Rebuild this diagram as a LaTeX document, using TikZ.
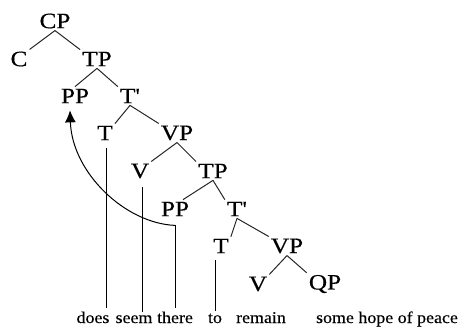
\documentclass[tikz,border=0pt]{standalone}
\usepackage{fontspec}
\setmainfont{Liberation Serif}
\newfontfamily\catfont[FakeStretch=1.15,FakeBold=0.4]{Liberation Serif}
\newfontfamily\wordfont[FakeStretch=1.09,FakeBold=0.3]{Liberation Serif}
\usetikzlibrary{arrows,arrows.meta,positioning}
\tikzstyle{cat} = [inner sep=2pt, font=\catfont\fontsize{22}{22}\selectfont]
\tikzstyle{word} = [inner sep=3pt, anchor=base, font=\wordfont\fontsize{16.5}{16.5}\selectfont]
\tikzstyle{branch} = [draw=black!85, line width=1bp]
\tikzstyle{trace} = [draw=black, line width=1bp]

\begin{document}
\begin{tikzpicture}[x=1bp, y=-1bp]
\useasboundingbox (0,0) rectangle (461,327);
% categories
\node[cat] (CP) at (55,21) {CP};
\node[cat] (C) at (19,59) {C};
\node[cat] (TPa) at (97,59) {TP};
\node[cat] (PPa) at (75,96) {PP};
\node[cat] (Tba) at (130,96) {T'};
\node[cat] (Ta) at (105,133) {T};
\node[cat] (VPa) at (177,133) {VP};
\node[cat] (Va) at (140,171) {V};
\node[cat] (TPb) at (213,171) {TP};
\node[cat] (PPb) at (175,209) {PP};
\node[cat] (Tbb) at (237,209) {T'};
\node[cat] (Tb) at (221,246) {T};
\node[cat] (VPb) at (287,246) {VP};
\node[cat] (Vb) at (258,284) {V};
\node[cat] (QP) at (325,284) {QP};
% words
\node[word] (does) at (93,323) {does};
\node[word] (seem) at (134,323) {seem};
\node[word] (there) at (175,323) {there};
\node[word] (to) at (215,323) {to};
\node[word] (remain) at (261,323) {remain};
\node[word] (some) at (387,323) {some hope of peace};
% branches
\draw[branch] (CP.south) -- (C.north east);
\draw[branch] (CP.south) -- (TPa.north west);
\draw[branch] (TPa.south) -- (PPa.north);
\draw[branch] (TPa.south) -- (Tba.north west);
\draw[branch] (Tba.south) -- (Ta.north east);
\draw[branch] (Tba.south) -- (VPa.north west);
\draw[branch] (VPa.south) -- (Va.north east);
\draw[branch] (VPa.south) -- (TPb.north west);
\draw[branch] (TPb.south) -- ([xshift=8bp]PPb.north);
\draw[branch] (TPb.south) -- (Tbb.north west);
\draw[branch] (Tbb.south) -- (Tb.north east);
\draw[branch] (Tbb.south) -- (VPb.north west);
\draw[branch] (VPb.south) -- (Vb.north east);
\draw[branch] (VPb.south) -- (QP.north west);
% lines down to the words
\coordinate (tr) at ([yshift=-7bp]PPb.south);
\draw[trace] ([xshift=1bp,yshift=-6bp]Ta.south) -- ([xshift=1bp]Ta.south |- does.north);
\draw[trace] ([xshift=2bp,yshift=-6bp]Va.south) -- ([xshift=2bp]Va.south |- seem.north);
\draw[trace] (tr) -- (tr |- there.north);
\draw[trace] ([xshift=-6bp,yshift=-5bp]Tb.south) -- ([xshift=-6bp]Tb.south |- to.north);
% movement
\draw[trace, -{Latex[length=12bp,width=11bp]}] (tr) .. controls +(-50,-2) and +(2,62) .. ([xshift=-5bp,yshift=-5bp]PPa.south);
\end{tikzpicture}
\end{document}
